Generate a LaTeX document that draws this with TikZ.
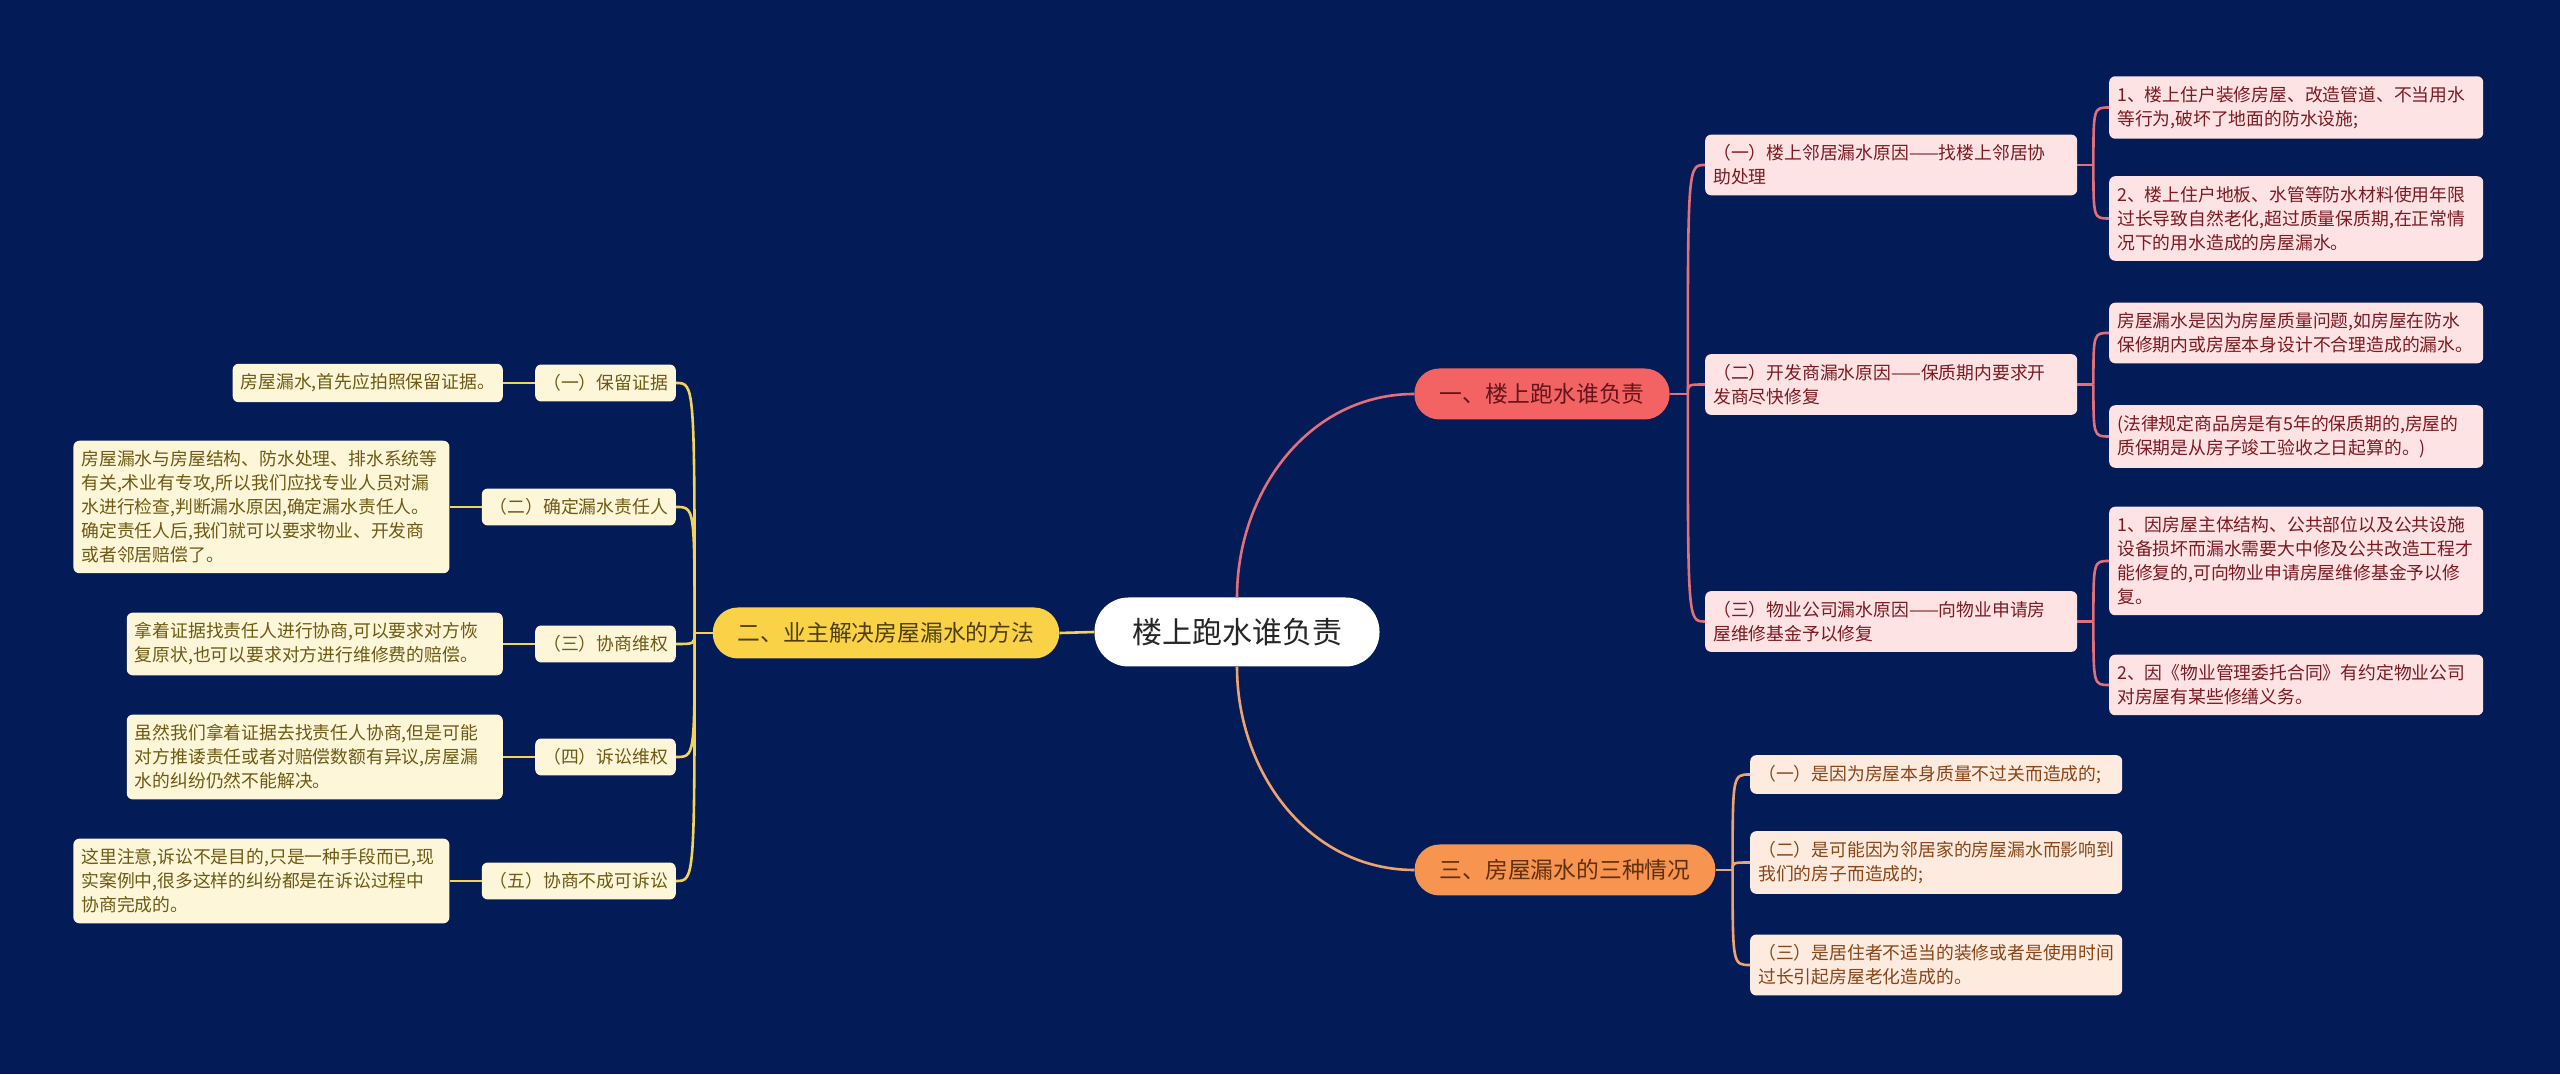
\documentclass[tikz,border=0pt]{standalone}
\usepackage{fontspec}
\setmainfont{Noto Sans CJK SC}
\usepackage{xcolor}
\definecolor{navybg}{HTML}{031B57}
\definecolor{pillred}{HTML}{F46363}
\definecolor{pillyellow}{HTML}{F9D247}
\definecolor{pillorange}{HTML}{F7944F}
\definecolor{pinkfill}{HTML}{FDE3E3}
\definecolor{pinktext}{HTML}{7C1A22}
\definecolor{pinkline}{HTML}{E2707A}
\definecolor{peachfill}{HTML}{FDEBDF}
\definecolor{peachtext}{HTML}{8A4516}
\definecolor{peachline}{HTML}{EFA36E}
\definecolor{creamfill}{HTML}{FDF6D9}
\definecolor{creamtext}{HTML}{6E5A14}
\definecolor{creamline}{HTML}{F3D458}
\usetikzlibrary{calc,positioning}

\begin{document}
\begin{tikzpicture}[x=1pt, y=1pt,
    topic/.style={fill=white, text=black!85, rounded corners=34pt, minimum width=285pt, minimum height=69pt, font=\fontsize{30}{36}\selectfont},
    mainpill/.style={rounded corners=25pt, minimum height=51pt, inner xsep=25pt, font=\fontsize{22.8}{28}\selectfont},
    card/.style={rounded corners=6pt, inner xsep=8pt, inner ysep=10pt, align=left, font=\fontsize{17.8}{24}\selectfont},
    redcard/.style={card, fill=pinkfill, text=pinktext},
    orangecard/.style={card, fill=peachfill, text=peachtext},
    yellowcard/.style={card, fill=creamfill, text=creamtext},
    link/.style={line width=2.6pt},
]
    % Background
    \fill[navybg] (0,0) rectangle (2560,1074);
    \useasboundingbox (0,0) rectangle (2560,1074);

    % Central topic
    \node[topic] (Root) at (1237,442) {楼上跑水谁负责};

    % Main branches
    \node[mainpill, fill=pillred, text=pinktext!80!black] (BranchA) at (1542,680) {一、楼上跑水谁负责};
    \node[mainpill, fill=pillyellow, text=creamtext!70!black] (BranchB) at (886,441) {二、业主解决房屋漏水的方法};
    \node[mainpill, fill=pillorange, text=peachtext!70!black] (BranchC) at (1565,204) {三、房屋漏水的三种情况};

    % Branch one: causes
    \node[redcard, text width=356pt, anchor=west] (CauseA) at (1705,909) {（一）楼上邻居漏水原因——找楼上邻居协\\助处理};
    \node[redcard, text width=356pt, anchor=west] (CauseB) at (1705,689.5) {（二）开发商漏水原因——保质期内要求开\\发商尽快修复};
    \node[redcard, text width=356pt, anchor=west] (CauseC) at (1705,452.5) {（三）物业公司漏水原因——向物业申请房\\屋维修基金予以修复};

    % Branch one: details
    \node[redcard, text width=358pt, anchor=west] (DetailA1) at (2109,966.5) {1、楼上住户装修房屋、改造管道、不当用水\\等行为,破坏了地面的防水设施;};
    \node[redcard, text width=358pt, anchor=west] (DetailA2) at (2109,855.5) {2、楼上住户地板、水管等防水材料使用年限\\过长导致自然老化,超过质量保质期,在正常情\\况下的用水造成的房屋漏水。};
    \node[redcard, text width=358pt, anchor=west] (DetailB1) at (2109,741) {房屋漏水是因为房屋质量问题,如房屋在防水\\保修期内或房屋本身设计不合理造成的漏水。};
    \node[redcard, text width=358pt, anchor=west] (DetailB2) at (2109,637.5) {(法律规定商品房是有5年的保质期的,房屋的\\质保期是从房子竣工验收之日起算的。)};
    \node[redcard, text width=358pt, anchor=west] (DetailC1) at (2109,513) {1、因房屋主体结构、公共部位以及公共设施\\设备损坏而漏水需要大中修及公共改造工程才\\能修复的,可向物业申请房屋维修基金予以修\\复。};
    \node[redcard, text width=358pt, anchor=west] (DetailC2) at (2109,389) {2、因《物业管理委托合同》有约定物业公司\\对房屋有某些修缮义务。};

    % Branch three: cases
    \node[orangecard, text width=356pt, anchor=west] (CaseA) at (1750,299.5) {（一）是因为房屋本身质量不过关而造成的;};
    \node[orangecard, text width=356pt, anchor=west] (CaseB) at (1750,211.5) {（二）是可能因为邻居家的房屋漏水而影响到\\我们的房子而造成的;};
    \node[orangecard, text width=356pt, anchor=west] (CaseC) at (1750,109) {（三）是居住者不适当的装修或者是使用时间\\过长引起房屋老化造成的。};

    % Branch two: steps
    \node[yellowcard, anchor=east] (StepA) at (676,691) {（一）保留证据};
    \node[yellowcard, anchor=east] (StepB) at (676,567) {（二）确定漏水责任人};
    \node[yellowcard, anchor=east] (StepC) at (676,430) {（三）协商维权};
    \node[yellowcard, anchor=east] (StepD) at (676,317) {（四）诉讼维权};
    \node[yellowcard, anchor=east] (StepE) at (676,193) {（五）协商不成可诉讼};

    % Branch two: notes
    \node[yellowcard, left=32pt of StepA] (NoteA) {房屋漏水,首先应拍照保留证据。};
    \node[yellowcard, text width=360pt, left=32pt of StepB] (NoteB) {房屋漏水与房屋结构、防水处理、排水系统等\\有关,术业有专攻,所以我们应找专业人员对漏\\水进行检查,判断漏水原因,确定漏水责任人。\\确定责任人后,我们就可以要求物业、开发商\\或者邻居赔偿了。};
    \node[yellowcard, text width=360pt, left=32pt of StepC] (NoteC) {拿着证据找责任人进行协商,可以要求对方恢\\复原状,也可以要求对方进行维修费的赔偿。};
    \node[yellowcard, text width=360pt, left=32pt of StepD] (NoteD) {虽然我们拿着证据去找责任人协商,但是可能\\对方推诿责任或者对赔偿数额有异议,房屋漏\\水的纠纷仍然不能解决。};
    \node[yellowcard, text width=360pt, left=32pt of StepE] (NoteE) {这里注意,诉讼不是目的,只是一种手段而已,现\\实案例中,很多这样的纠纷都是在诉讼过程中\\协商完成的。};

    % Root to main branches
    \draw[link, pinkline] (Root.north) to[out=90, in=180] (BranchA.west);
    \draw[link, peachline] (Root.south) to[out=-90, in=180] (BranchC.west);
    \draw[link, creamline] (Root.west) -- (BranchB.east);

    % Branch one fan-out
    \draw[link, pinkline] (BranchA.east) -- ++(18,0) coordinate (ForkA);
    \draw[link, pinkline] (ForkA) .. controls (ForkA |- CauseA.west) .. (CauseA.west);
    \draw[link, pinkline] (ForkA) .. controls (ForkA |- CauseB.west) .. (CauseB.west);
    \draw[link, pinkline] (ForkA) .. controls (ForkA |- CauseC.west) .. (CauseC.west);

    % Cause details
    \draw[link, pinkline] (CauseA.east) -- ++(16,0) coordinate (ForkA1);
    \draw[link, pinkline] (ForkA1) .. controls (ForkA1 |- DetailA1.west) .. (DetailA1.west);
    \draw[link, pinkline] (ForkA1) .. controls (ForkA1 |- DetailA2.west) .. (DetailA2.west);
    \draw[link, pinkline] (CauseB.east) -- ++(16,0) coordinate (ForkA2);
    \draw[link, pinkline] (ForkA2) .. controls (ForkA2 |- DetailB1.west) .. (DetailB1.west);
    \draw[link, pinkline] (ForkA2) .. controls (ForkA2 |- DetailB2.west) .. (DetailB2.west);
    \draw[link, pinkline] (CauseC.east) -- ++(16,0) coordinate (ForkA3);
    \draw[link, pinkline] (ForkA3) .. controls (ForkA3 |- DetailC1.west) .. (DetailC1.west);
    \draw[link, pinkline] (ForkA3) .. controls (ForkA3 |- DetailC2.west) .. (DetailC2.west);

    % Branch three fan-out
    \draw[link, peachline] (BranchC.east) -- ++(17,0) coordinate (ForkC);
    \draw[link, peachline] (ForkC) .. controls (ForkC |- CaseA.west) .. (CaseA.west);
    \draw[link, peachline] (ForkC) .. controls (ForkC |- CaseB.west) .. (CaseB.west);
    \draw[link, peachline] (ForkC) .. controls (ForkC |- CaseC.west) .. (CaseC.west);

    % Branch two fan-out
    \draw[link, creamline] (BranchB.west) -- ++(-18,0) coordinate (ForkB);
    \draw[link, creamline] (ForkB) .. controls (ForkB |- StepA.east) .. (StepA.east);
    \draw[link, creamline] (ForkB) .. controls (ForkB |- StepB.east) .. (StepB.east);
    \draw[link, creamline] (ForkB) .. controls (ForkB |- StepC.east) .. (StepC.east);
    \draw[link, creamline] (ForkB) .. controls (ForkB |- StepD.east) .. (StepD.east);
    \draw[link, creamline] (ForkB) .. controls (ForkB |- StepE.east) .. (StepE.east);

    % Steps to notes
    \draw[link, creamline] (StepA.west) -- (NoteA.east);
    \draw[link, creamline] (StepB.west) -- (NoteB.east);
    \draw[link, creamline] (StepC.west) -- (NoteC.east);
    \draw[link, creamline] (StepD.west) -- (NoteD.east);
    \draw[link, creamline] (StepE.west) -- (NoteE.east);
\end{tikzpicture}
\end{document}
